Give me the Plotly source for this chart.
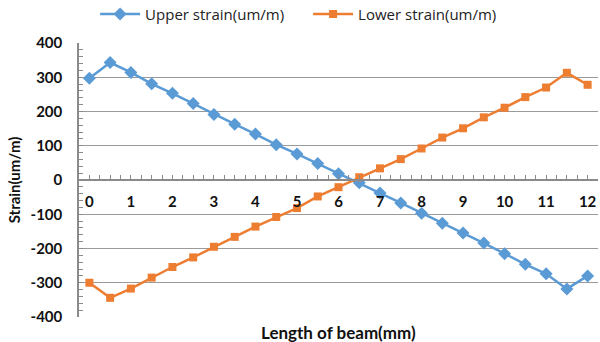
import plotly.graph_objects as go

# Measurement positions along the beam (mm)
length_mm = [0, 0.5, 1, 1.5, 2, 2.5, 3, 3.5, 4, 4.5, 5, 5.5, 6,
             6.5, 7, 7.5, 8, 8.5, 9, 9.5, 10, 10.5, 11, 11.5, 12]

# Strain readings (um/m)
upper_strain = [297, 343, 314, 281, 253, 223, 191, 163, 134, 103, 76, 48, 18,
                -8, -38, -67, -97, -126, -155, -184, -215, -246, -274, -318, -280]
lower_strain = [-300, -344, -317, -285, -254, -226, -195, -166, -136, -108, -82, -48, -21,
                8, 34, 61, 92, 124, 151, 183, 211, 242, 270, 313, 278]

x_tick_vals = [0, 1, 2, 3, 4, 5, 6, 7, 8, 9, 10, 11, 12]
y_tick_vals = [-400, -300, -200, -100, 0, 100, 200, 300, 400]
y_tick_text = ["-400", "-300", "-200", "-100", "0", "100", "200", "300", "400"]

BLUE = "#5B9BD5"
ORANGE = "#ED7D31"
GRID = "#9a9a9a"
AXIS = "#8a8a8a"
FONT = "Lato"

fig = go.Figure()
fig.add_trace(go.Scatter(
    x=length_mm, y=upper_strain, mode="lines+markers",
    name="Upper strain(um/m)",
    line=dict(color=BLUE, width=2.5),
    marker=dict(symbol="diamond", size=10, color=BLUE),
))
fig.add_trace(go.Scatter(
    x=length_mm, y=lower_strain, mode="lines+markers",
    name="Lower strain(um/m)",
    line=dict(color=ORANGE, width=2.5),
    marker=dict(symbol="square", size=8, color=ORANGE),
))

fig.update_layout(
    width=600, height=342,
    margin=dict(l=79, r=2, t=43, b=25, autoexpand=False),
    paper_bgcolor="white", plot_bgcolor="white",
    font=dict(family=FONT, color="#000000"),
    showlegend=True,
    legend=dict(
        orientation="h", x=0.031, xanchor="left", y=1.105, yanchor="middle",
        font=dict(family="Open Sans", size=15, color="#222222"),
        itemwidth=40, tracegroupgap=0, entrywidth=158, entrywidthmode="pixels",
    ),
    xaxis=dict(
        range=[-0.25, 12.25],
        anchor="free", position=0.5, side="bottom",
        tickmode="array", tickvals=x_tick_vals,
        ticktext=[str(v) for v in x_tick_vals],
        ticks="inside", ticklen=4, tickcolor=AXIS, tickwidth=1,
        ticklabelstandoff=8,
        minor=dict(tickmode="linear", tick0=-0.25, dtick=0.25,
                   ticks="inside", ticklen=4, tickcolor=AXIS, showgrid=False),
        showline=True, linecolor=AXIS, linewidth=1.5,
        showgrid=False, zeroline=False,
        tickfont=dict(family=FONT, size=15, color="#111111", weight="bold"),
    ),
    yaxis=dict(
        range=[-400, 400],
        tickmode="array", tickvals=y_tick_vals, ticktext=y_tick_text,
        ticks="inside", ticklen=4, tickcolor=AXIS,
        minor=dict(dtick=20, ticks="inside", ticklen=4, tickcolor=AXIS, showgrid=False),
        showline=True, linecolor=AXIS, linewidth=1.5,
        showgrid=True, gridcolor=GRID, gridwidth=1.2,
        zeroline=False,
        ticklabelstandoff=12,
        tickfont=dict(family=FONT, size=15, color="#111111", weight="bold"),
        title=dict(text="Strain(um/m)", standoff=6,
                   font=dict(family=FONT, size=15, color="#111111", weight="bold")),
    ),
    annotations=[dict(
        text="Length of beam(mm)", xref="paper", yref="paper",
        x=0.5, y=-0.01, xanchor="center", yanchor="top", showarrow=False,
        font=dict(family=FONT, size=17, color="#111111", weight="bold"),
    )],
)

fig.write_html("out.html")
